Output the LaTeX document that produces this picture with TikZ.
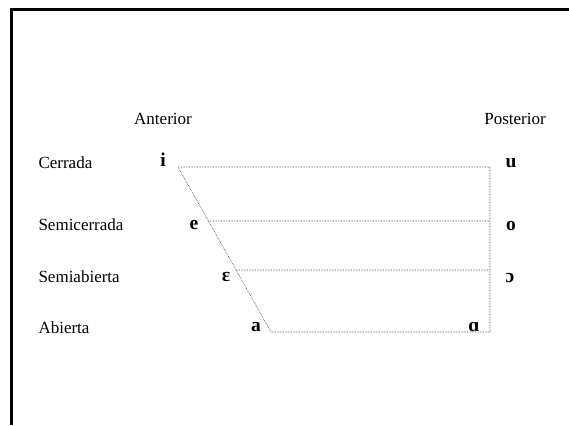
\documentclass[tikz,border=0pt]{standalone}
\usepackage{fontspec}
\setmainfont{Liberation Serif}
\usetikzlibrary{calc}

\begin{document}
\begin{tikzpicture}[x=1pt, y=-1pt,
    font=\fontsize{17}{20}\selectfont,
    vowel/.style={font=\fontsize{19.5}{22}\selectfont\bfseries},
    row/.style={anchor=west},
    chart/.style={densely dotted, line width=0.6pt, black!80}]
    \useasboundingbox (0,0) rectangle (569,425);

    % frame
    \draw[line width=3pt] (569,10) -- (11,10) -- (11,425);

    % column and row labels
    \node (anterior)  at (163,119) {Anterior};
    \node (posterior) at (515,119) {Posterior};

    \node[row] (cerrada)     at (35,163) {Cerrada};
    \node[row] (semicerrada) at (35,225) {Semicerrada};
    \node[row] (semiabierta) at (35,277) {Semiabierta};
    \node[row] (abierta)     at (35,328) {Abierta};

    % vowels
    \node[vowel] (i) at (163,160) {i};
    \node[vowel] (e) at (194,225) {e};
    \node[vowel] (E) at (226,277) {ɛ};
    \node[vowel] (a) at (256,327) {a};

    \node[vowel] (u) at (511,163) {u};
    \node[vowel] (o) at (511,226) {o};
    \node[vowel] (O) at (510,278) {ɔ};
    \node[vowel] (A) at (474,327) {ɑ};

    % corners of the chart
    \coordinate (front1) at (178,167);
    \coordinate (front4) at (271,332);
    \coordinate (back1)  at (490,167);
    \coordinate (back4)  at (490,332);
    \coordinate (front2) at ($(front1)!0.327!(front4)$);
    \coordinate (front3) at ($(front1)!0.624!(front4)$);
    \coordinate (back2)  at (490,221);
    \coordinate (back3)  at (490,270);

    \draw[chart] (front1) -- (back1) -- (back4) -- (front4) -- cycle;
    \foreach \i in {2,3}{
      \draw[chart] (front\i) -- (back\i);
    }
\end{tikzpicture}
\end{document}
